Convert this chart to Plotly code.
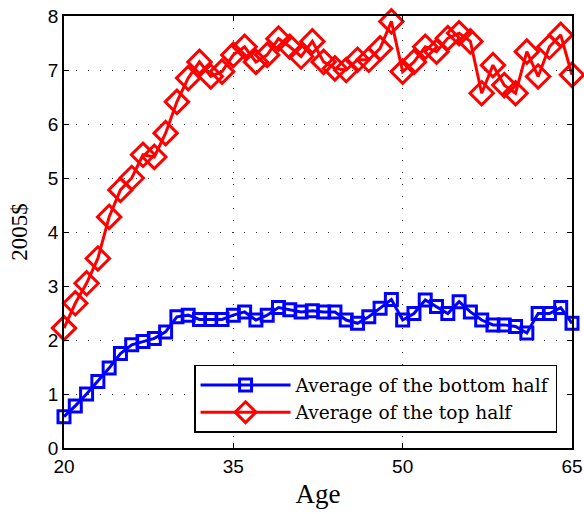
import plotly.graph_objects as go

ages = list(range(20, 66))
bottom_half = [0.58, 0.78, 1.00, 1.23, 1.48, 1.75, 1.91, 1.97, 2.03, 2.15,
               2.43, 2.46, 2.38, 2.38, 2.38, 2.46, 2.52, 2.37, 2.46, 2.60,
               2.56, 2.52, 2.54, 2.52, 2.52, 2.37, 2.31, 2.43, 2.59, 2.75,
               2.37, 2.49, 2.74, 2.62, 2.49, 2.71, 2.52, 2.37, 2.28, 2.28,
               2.25, 2.13, 2.49, 2.49, 2.60, 2.31]
top_half = [2.22, 2.68, 3.05, 3.51, 4.28, 4.78, 5.00, 5.43, 5.39, 5.83,
            6.41, 6.85, 7.15, 6.88, 6.97, 7.28, 7.43, 7.15, 7.28, 7.58,
            7.43, 7.25, 7.53, 7.15, 7.03, 7.00, 7.19, 7.19, 7.40, 7.90,
            6.97, 7.15, 7.43, 7.34, 7.59, 7.68, 7.53, 6.57, 7.09, 6.72,
            6.57, 7.34, 6.88, 7.43, 7.65, 6.91]
x_ticks = [20, 35, 50, 65]
y_ticks = [0, 1, 2, 3, 4, 5, 6, 7, 8]

fig = go.Figure()
fig.add_trace(go.Scatter(
    x=ages, y=bottom_half, mode="lines+markers",
    name="Average of the bottom half", cliponaxis=False,
    line=dict(color="#0000ff", width=3),
    marker=dict(symbol="square-open", size=12, color="#0000ff",
                line=dict(width=3, color="#0000ff")),
))
fig.add_trace(go.Scatter(
    x=ages, y=top_half, mode="lines+markers",
    name="Average of the top half", cliponaxis=False,
    line=dict(color="#ff0000", width=3),
    marker=dict(symbol="diamond-open", size=18, color="#ff0000",
                line=dict(width=3, color="#ff0000")),
))

axis_common = dict(
    showline=True, mirror="ticks", linecolor="black", linewidth=1.5,
    ticks="inside", ticklen=5, tickwidth=1, tickcolor="black",
    showgrid=True, gridcolor="#333333", gridwidth=1, griddash="1px,11px",
    zeroline=False, ticklabeloverflow="allow", automargin=False,
    tickfont=dict(family="Liberation Sans, Arial", size=19, color="black"),
)

fig.update_xaxes(range=[20, 65], tickvals=x_ticks, **axis_common,
                 title=dict(text="Age", font=dict(family="Liberation Serif, serif", size=27, color="black"),
                            standoff=9))
fig.update_yaxes(range=[0, 8], tickvals=y_ticks, **axis_common,
                 title=dict(text="2005$", font=dict(family="Liberation Serif, serif", size=23, color="black"),
                            standoff=14))

fig.update_layout(
    width=584, height=514,
    margin=dict(l=64, r=12, t=16, b=66),
    paper_bgcolor="white", plot_bgcolor="white",
    showlegend=True,
    legend=dict(
        x=0.256, y=0.035, xanchor="left", yanchor="bottom",
        bgcolor="white", bordercolor="black", borderwidth=1.5,
        font=dict(family="DejaVu Serif, serif", size=18.6, color="black"),
        itemwidth=90, tracegroupgap=0,
    ),
)

fig.write_html("out.html",
               config={"displayModeBar": False},
               post_script="document.body.style.margin='0';document.body.style.overflow='hidden';")
